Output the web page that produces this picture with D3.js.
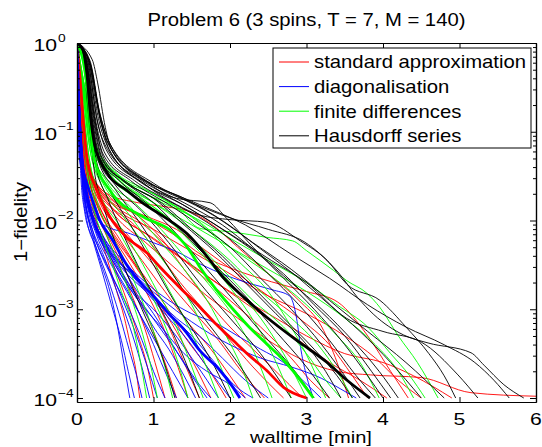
<!DOCTYPE html>
<html><head><meta charset="utf-8">
<script src="https://cdn.jsdelivr.net/npm/d3@7"></script>
<style>body{margin:0;background:#fff}svg{display:block}text{font-family:"Liberation Sans",Arial,Helvetica,sans-serif;fill:#000}</style>
</head><body>
<svg id="c" width="542" height="447"></svg>
<script>
// Each run: list of [walltime (min), log10(1 - fidelity)]
const titleText = "Problem 6 (3 spins, T = 7, M = 140)";
const xLabel = "walltime [min]";
const yLabel = "1\u2212fidelity";
const xTicks = [0,1,2,3,4,5,6];
const yTickExps = [0,-1,-2,-3,-4];
const seriesNames = ["standard approximation","diagonalisation","finite differences","Hausdorff series"];
const seriesColors = ["#ff0000","#0000ff","#00ff00","#000000"];

const redRuns = [
 [[0,0],[0.03,-0.6],[0.08,-1.3],[0.15,-1.75],[0.26,-2.05],[0.4,-2.45],[0.52,-2.8],[0.62,-3.1],[0.69,-3.37],[0.78,-3.74],[0.82,-4]],
 [[0,0],[0.04,-0.7],[0.1,-1.4],[0.2,-1.85],[0.35,-2.2],[0.5,-2.55],[0.65,-2.9],[0.8,-3.3],[0.92,-3.65],[1.0,-4]],
 [[0,0],[0.04,-0.6],[0.1,-1.3],[0.2,-1.8],[0.35,-2.1],[0.55,-2.5],[0.72,-2.85],[0.88,-3.2],[1.02,-3.6],[1.15,-4]],
 [[0,0],[0.05,-0.8],[0.12,-1.45],[0.25,-1.9],[0.45,-2.25],[0.65,-2.6],[0.85,-2.95],[1.0,-3.25],[1.15,-3.6],[1.3,-4]],
 [[0,0],[0.05,-0.7],[0.12,-1.35],[0.25,-1.8],[0.45,-2.15],[0.7,-2.5],[0.9,-2.8],[1.1,-3.15],[1.28,-3.55],[1.45,-4]],
 [[0,0],[0.06,-0.9],[0.15,-1.5],[0.3,-1.9],[0.5,-2.2],[0.75,-2.5],[1.0,-2.85],[1.2,-3.2],[1.4,-3.6],[1.6,-4]],
 [[0,0],[0.05,-0.8],[0.14,-1.45],[0.3,-1.85],[0.55,-2.2],[0.8,-2.55],[1.05,-2.9],[1.3,-3.25],[1.52,-3.6],[1.75,-4]],
 [[0,0],[0.06,-0.85],[0.15,-1.5],[0.35,-1.95],[0.6,-2.3],[0.9,-2.65],[1.15,-2.95],[1.4,-3.3],[1.7,-3.65],[1.95,-4]],
 [[0,0],[0.05,-0.75],[0.14,-1.4],[0.3,-1.8],[0.55,-2.1],[0.85,-2.45],[1.15,-2.8],[1.45,-3.15],[1.75,-3.45],[2.0,-3.75],[2.2,-4]],
 [[0,0],[0.06,-0.8],[0.16,-1.45],[0.35,-1.85],[0.65,-2.15],[0.95,-2.45],[1.25,-2.75],[1.55,-3.05],[1.85,-3.35],[2.15,-3.7],[2.45,-4]],
 [[0,0],[0.07,-0.9],[0.18,-1.5],[0.4,-1.8],[0.75,-2.05],[1.05,-2.35],[1.35,-2.7],[1.65,-3.0],[1.95,-3.3],[2.3,-3.65],[2.7,-4]],
 [[0,0],[0.06,-0.8],[0.16,-1.4],[0.4,-1.75],[0.8,-1.95],[1.1,-2.2],[1.4,-2.55],[1.7,-2.9],[2.0,-3.2],[2.3,-3.45],[2.6,-3.7],[2.95,-4]],
 [[0,0],[0.07,-0.85],[0.2,-1.5],[0.45,-1.8],[0.8,-2.0],[1.2,-2.3],[1.6,-2.6],[2.0,-2.9],[2.4,-3.2],[2.8,-3.55],[3.05,-3.8],[3.3,-4]],
 [[0,0],[0.06,-0.8],[0.17,-1.45],[0.4,-1.7],[0.8,-1.8],[1.2,-1.85],[1.44,-1.89],[1.74,-2.03],[2.1,-2.3],[2.5,-2.6],[2.9,-2.9],[3.2,-3.2],[3.4,-3.6],[3.55,-4]],
 [[0,0],[0.07,-0.9],[0.2,-1.5],[0.5,-1.8],[0.9,-1.95],[1.3,-2.1],[1.7,-2.35],[2.1,-2.6],[2.5,-2.85],[2.9,-3.1],[3.3,-3.4],[3.6,-3.75],[3.8,-4]],
 [[0,0],[0.06,-0.8],[0.18,-1.45],[0.45,-1.75],[0.85,-1.95],[1.25,-2.15],[1.65,-2.4],[2.05,-2.55],[2.54,-2.69],[3.0,-2.8],[3.41,-2.92],[3.8,-3.3],[4.1,-3.7],[4.33,-4]],
 [[0,0],[0.07,-0.85],[0.2,-1.5],[0.5,-1.85],[1.0,-2.1],[1.5,-2.35],[2.0,-2.6],[2.5,-2.85],[3.0,-3.05],[3.5,-3.3],[3.9,-3.55],[4.2,-3.8],[4.5,-4]],
 [[0,0],[0.07,-0.9],[0.2,-1.55],[0.5,-1.9],[1.0,-2.2],[1.5,-2.5],[2.0,-2.8],[2.5,-3.05],[3.0,-3.3],[3.5,-3.5],[4.0,-3.6],[4.4,-3.75],[4.9,-4]],
 [[0,0],[0.06,-0.8],[0.18,-1.45],[0.45,-1.85],[0.9,-2.15],[1.4,-2.45],[1.9,-2.75],[2.4,-3.05],[2.9,-3.35],[3.3,-3.6],[3.7,-3.8],[4.05,-4]],
 [[0,0],[0.07,-0.9],[0.2,-1.55],[0.5,-1.95],[0.9,-2.25],[1.3,-2.55],[1.7,-2.85],[2.1,-3.1],[2.5,-3.35],[2.9,-3.55],[3.4,-3.7],[3.84,-3.74],[4.5,-3.77],[5.15,-3.94],[6.0,-3.98]]
];
const blueRuns = [
 [[0,0],[0.02,-0.7],[0.06,-1.4],[0.12,-1.85],[0.17,-2.05],[0.3,-2.45],[0.43,-2.8],[0.52,-3.15],[0.6,-3.55],[0.69,-4]],
 [[0,0],[0.02,-0.8],[0.05,-1.5],[0.1,-1.9],[0.2,-2.2],[0.32,-2.55],[0.45,-2.95],[0.58,-3.35],[0.67,-3.7],[0.75,-4]],
 [[0,0],[0.03,-0.9],[0.07,-1.6],[0.13,-2.0],[0.25,-2.3],[0.4,-2.65],[0.55,-3.05],[0.68,-3.45],[0.78,-3.75],[0.85,-4]],
 [[0,0],[0.02,-0.6],[0.05,-1.3],[0.1,-1.8],[0.2,-2.1],[0.35,-2.4],[0.5,-2.75],[0.65,-3.1],[0.8,-3.5],[0.95,-4]],
 [[0,0],[0.03,-0.8],[0.07,-1.5],[0.14,-1.95],[0.28,-2.3],[0.45,-2.6],[0.6,-2.9],[0.78,-3.3],[0.92,-3.65],[1.05,-4]],
 [[0,0],[0.04,-1.0],[0.1,-1.7],[0.2,-2.1],[0.35,-2.45],[0.5,-2.7],[0.68,-3.0],[0.85,-3.35],[1.0,-3.7],[1.15,-4]],
 [[0,0],[0.03,-0.9],[0.08,-1.55],[0.18,-1.95],[0.3,-2.2],[0.5,-2.55],[0.7,-2.85],[0.9,-3.2],[1.1,-3.6],[1.3,-4]],
 [[0,0],[0.05,-1.1],[0.12,-1.75],[0.25,-2.15],[0.45,-2.5],[0.65,-2.8],[0.85,-3.1],[1.05,-3.4],[1.25,-3.7],[1.45,-4]],
 [[0,0],[0.04,-0.9],[0.1,-1.6],[0.22,-2.05],[0.4,-2.35],[0.6,-2.65],[0.8,-2.9],[1.0,-3.2],[1.2,-3.45],[1.4,-3.75],[1.55,-4]],
 [[0,0],[0.03,-0.8],[0.08,-1.45],[0.2,-1.95],[0.35,-2.2],[0.55,-2.45],[0.75,-2.75],[1.0,-3.05],[1.25,-3.4],[1.5,-3.75],[1.7,-4]],
 [[0,0],[0.03,-0.8],[0.09,-1.5],[0.22,-2.0],[0.45,-2.4],[0.7,-2.75],[0.95,-3.05],[1.2,-3.35],[1.4,-3.6],[1.6,-3.85],[1.75,-4]],
 [[0,0],[0.05,-1.0],[0.13,-1.7],[0.3,-2.15],[0.5,-2.45],[0.75,-2.8],[1.0,-3.0],[1.25,-3.25],[1.5,-3.55],[1.7,-3.8],[1.85,-4]],
 [[0,0],[0.04,-0.9],[0.1,-1.6],[0.25,-2.05],[0.45,-2.35],[0.7,-2.6],[0.95,-2.85],[1.2,-3.1],[1.45,-3.35],[1.7,-3.65],[2.0,-4]],
 [[0,0],[0.04,-0.85],[0.1,-1.6],[0.25,-2.1],[0.5,-2.5],[0.8,-2.9],[1.1,-3.2],[1.4,-3.5],[1.7,-3.7],[2.0,-3.85],[2.2,-4]],
 [[0,0],[0.05,-1.05],[0.15,-1.8],[0.35,-2.25],[0.6,-2.55],[0.9,-2.8],[1.2,-3.05],[1.5,-3.3],[1.8,-3.6],[2.05,-3.85],[2.3,-4]],
 [[0,0],[0.06,-1.1],[0.18,-1.85],[0.4,-2.3],[0.7,-2.6],[1.0,-2.85],[1.3,-3.1],[1.6,-3.3],[1.9,-3.55],[2.2,-3.8],[2.5,-4]],
 [[0,0],[0.05,-1.0],[0.15,-1.75],[0.35,-2.05],[0.7,-2.15],[1.0,-2.25],[1.3,-2.35],[1.61,-2.49],[1.95,-2.62],[2.26,-2.71],[2.55,-2.78],[2.78,-2.85],[2.87,-3.1],[2.93,-3.47],[3.0,-3.75],[3.09,-4]],
 [[0,0],[0.04,-0.9],[0.12,-1.65],[0.3,-2.1],[0.6,-2.45],[0.9,-2.7],[1.2,-2.9],[1.5,-3.05],[1.8,-3.15],[2.1,-3.3],[2.4,-3.45],[2.7,-3.6],[2.95,-3.8],[3.19,-4]],
 [[0,0],[0.05,-1.0],[0.15,-1.8],[0.4,-2.3],[0.8,-2.65],[1.2,-2.95],[1.6,-3.2],[2.0,-3.4],[2.4,-3.55],[2.8,-3.65],[3.2,-3.78],[3.45,-3.9],[3.65,-4]]
];
const greenRuns = [
 [[0,0],[0.04,-0.5],[0.1,-1.2],[0.2,-1.8],[0.3,-2.1],[0.43,-2.42],[0.58,-2.8],[0.73,-3.18],[0.86,-3.74],[0.91,-4]],
 [[0,0],[0.05,-0.6],[0.12,-1.25],[0.22,-1.75],[0.38,-2.15],[0.55,-2.5],[0.72,-2.9],[0.88,-3.35],[0.98,-3.7],[1.05,-4]],
 [[0,0],[0.06,-0.6],[0.14,-1.3],[0.25,-1.75],[0.45,-2.15],[0.65,-2.5],[0.85,-2.9],[1.02,-3.3],[1.15,-3.65],[1.25,-4]],
 [[0,0],[0.06,-0.55],[0.15,-1.25],[0.28,-1.7],[0.5,-2.05],[0.75,-2.45],[0.98,-2.85],[1.18,-3.25],[1.32,-3.6],[1.45,-4]],
 [[0,0],[0.07,-0.6],[0.16,-1.3],[0.3,-1.7],[0.55,-2.05],[0.8,-2.4],[1.05,-2.8],[1.3,-3.2],[1.48,-3.6],[1.65,-4]],
 [[0,0],[0.07,-0.5],[0.17,-1.2],[0.32,-1.6],[0.6,-1.95],[0.9,-2.3],[1.15,-2.7],[1.4,-3.1],[1.62,-3.5],[1.85,-4]],
 [[0,0],[0.08,-0.6],[0.18,-1.25],[0.35,-1.6],[0.65,-1.9],[0.95,-2.25],[1.25,-2.6],[1.5,-2.95],[1.75,-3.4],[2.05,-4]],
 [[0,0],[0.08,-0.55],[0.19,-1.2],[0.38,-1.55],[0.7,-1.85],[1.05,-2.2],[1.4,-2.55],[1.7,-2.9],[1.95,-3.3],[2.15,-3.65],[2.3,-4]],
 [[0,0],[0.09,-0.6],[0.2,-1.25],[0.4,-1.55],[0.75,-1.8],[1.1,-2.1],[1.45,-2.45],[1.8,-2.8],[2.1,-3.15],[2.35,-3.55],[2.55,-4]],
 [[0,0],[0.08,-0.5],[0.2,-1.15],[0.42,-1.5],[0.8,-1.75],[1.2,-2.0],[1.6,-2.35],[1.95,-2.7],[2.25,-3.05],[2.55,-3.5],[2.8,-4]],
 [[0,0],[0.09,-0.55],[0.21,-1.2],[0.45,-1.5],[0.85,-1.75],[1.3,-2.05],[1.7,-2.4],[2.05,-2.75],[2.4,-3.1],[2.7,-3.5],[3.0,-4]],
 [[0,0],[0.1,-0.6],[0.22,-1.2],[0.45,-1.45],[0.9,-1.7],[1.3,-1.85],[1.7,-2.1],[2.1,-2.45],[2.5,-2.8],[2.8,-3.2],[3.05,-3.6],[3.25,-4]],
 [[0,0],[0.09,-0.5],[0.22,-1.15],[0.5,-1.55],[1.0,-1.85],[1.5,-2.2],[1.9,-2.55],[2.3,-2.9],[2.7,-3.2],[3.0,-3.5],[3.25,-3.8],[3.45,-4]],
 [[0,0],[0.1,-0.55],[0.23,-1.2],[0.5,-1.5],[1.0,-1.8],[1.5,-2.1],[2.0,-2.45],[2.4,-2.8],[2.8,-3.1],[3.15,-3.4],[3.4,-3.7],[3.6,-4]],
 [[0,0],[0.1,-0.5],[0.24,-1.15],[0.55,-1.5],[1.0,-1.7],[1.5,-1.95],[2.0,-2.3],[2.5,-2.6],[3.0,-2.95],[3.4,-3.3],[3.7,-3.6],[3.95,-4]],
 [[0,0],[0.1,-0.55],[0.24,-1.2],[0.55,-1.55],[1.0,-1.8],[1.5,-2.05],[2.0,-2.3],[2.5,-2.55],[3.0,-2.8],[3.5,-3.1],[3.9,-3.4],[4.2,-3.7],[4.4,-4]],
 [[0,0],[0.1,-0.5],[0.24,-1.2],[0.55,-1.5],[1.0,-1.75],[1.5,-1.95],[2.0,-2.2],[2.5,-2.45],[3.0,-2.7],[3.4,-2.95],[3.8,-3.2],[4.1,-3.5],[4.35,-3.75],[4.55,-4]],
 [[0,0],[0.1,-0.5],[0.25,-1.15],[0.5,-1.45],[0.9,-1.65],[1.3,-1.85],[1.61,-2.09],[2.04,-2.13],[2.48,-2.19],[2.82,-2.23],[3.0,-2.34],[3.35,-2.56],[3.53,-2.68],[3.79,-2.82],[3.96,-2.98],[4.2,-3.3],[4.45,-3.6],[4.72,-4]]
];
const blackRuns = [
 [[0,0],[0.08,-0.2],[0.15,-0.8],[0.22,-1.4],[0.35,-1.85],[0.5,-2.25],[0.7,-2.7],[0.9,-3.1],[1.1,-3.5],[1.28,-4]],
 [[0,0],[0.08,-0.15],[0.16,-0.8],[0.24,-1.35],[0.4,-1.75],[0.6,-2.15],[0.85,-2.6],[1.1,-3.0],[1.35,-3.45],[1.6,-4]],
 [[0,0],[0.09,-0.2],[0.17,-0.85],[0.26,-1.35],[0.45,-1.7],[0.7,-2.05],[1.0,-2.5],[1.3,-2.95],[1.6,-3.35],[1.8,-3.65],[2.0,-4]],
 [[0,0],[0.1,-0.2],[0.18,-0.8],[0.27,-1.3],[0.5,-1.65],[0.8,-2.0],[1.1,-2.4],[1.4,-2.8],[1.75,-3.2],[2.1,-3.6],[2.4,-4]],
 [[0,0],[0.1,-0.15],[0.19,-0.8],[0.28,-1.3],[0.5,-1.6],[0.85,-1.9],[1.2,-2.25],[1.6,-2.7],[2.0,-3.1],[2.4,-3.5],[2.8,-4]],
 [[0,0],[0.1,-0.2],[0.2,-0.85],[0.3,-1.3],[0.55,-1.55],[0.9,-1.8],[1.3,-2.15],[1.7,-2.55],[2.1,-2.95],[2.5,-3.35],[2.85,-3.7],[3.1,-4]],
 [[0,0],[0.12,-0.25],[0.22,-0.9],[0.32,-1.3],[0.6,-1.55],[1.0,-1.8],[1.4,-2.15],[1.8,-2.5],[2.2,-2.85],[2.6,-3.25],[3.0,-3.65],[3.3,-4]],
 [[0,0],[0.12,-0.2],[0.22,-0.85],[0.33,-1.3],[0.6,-1.55],[1.0,-1.75],[1.4,-2.05],[1.8,-2.35],[2.2,-2.7],[2.6,-3.05],[3.0,-3.4],[3.25,-3.7],[3.45,-4]],
 [[0,0],[0.13,-0.25],[0.24,-0.9],[0.35,-1.3],[0.7,-1.6],[1.1,-1.8],[1.5,-2.1],[1.9,-2.4],[2.3,-2.75],[2.7,-3.1],[3.1,-3.45],[3.4,-3.75],[3.6,-4]],
 [[0,0],[0.12,-0.2],[0.23,-0.85],[0.34,-1.25],[0.7,-1.55],[1.2,-1.82],[1.6,-2.05],[2.0,-2.3],[2.4,-2.65],[2.8,-3.0],[3.2,-3.4],[3.5,-3.75],[3.7,-4]],
 [[0,0],[0.14,-0.25],[0.25,-0.9],[0.37,-1.25],[0.75,-1.55],[1.2,-1.78],[1.7,-2.02],[2.1,-2.28],[2.5,-2.6],[2.9,-2.95],[3.3,-3.35],[3.65,-3.75],[3.9,-4]],
 [[0,0],[0.14,-0.2],[0.26,-0.85],[0.38,-1.2],[0.8,-1.55],[1.3,-1.75],[1.74,-1.8],[1.96,-1.98],[2.3,-2.3],[2.7,-2.65],[3.1,-3.0],[3.5,-3.4],[3.8,-3.75],[4.0,-4]],
 [[0,0],[0.15,-0.25],[0.27,-0.9],[0.4,-1.2],[0.85,-1.55],[1.4,-1.8],[1.9,-2.05],[2.3,-2.32],[2.7,-2.6],[3.1,-2.95],[3.5,-3.3],[3.85,-3.7],[4.1,-4]],
 [[0,0],[0.15,-0.2],[0.28,-0.85],[0.42,-1.2],[0.9,-1.6],[1.4,-1.83],[1.9,-2.1],[2.4,-2.4],[2.8,-2.7],[3.2,-3.0],[3.6,-3.35],[3.95,-3.7],[4.2,-4]],
 [[0,0],[0.16,-0.2],[0.3,-0.8],[0.44,-1.15],[0.9,-1.55],[1.4,-1.75],[1.9,-2.0],[2.4,-2.32],[2.9,-2.65],[3.3,-2.95],[3.7,-3.25],[4.1,-3.6],[4.5,-4]],
 [[0,0],[0.2,-0.19],[0.27,-0.45],[0.37,-0.95],[0.45,-1.2],[0.8,-1.5],[1.3,-1.72],[1.8,-1.95],[2.3,-2.25],[2.8,-2.55],[3.3,-2.9],[3.8,-3.25],[4.3,-3.6],[4.8,-4]],
 [[0,0],[0.15,-0.2],[0.28,-0.75],[0.42,-1.2],[0.9,-1.6],[1.3,-1.82],[1.61,-1.94],[2.0,-1.99],[2.48,-2.02],[2.92,-2.23],[3.27,-2.45],[3.53,-2.72],[3.96,-2.9],[4.3,-3.2],[4.6,-3.5],[4.8,-3.75],[4.95,-4]],
 [[0,0],[0.16,-0.2],[0.3,-0.85],[0.45,-1.2],[1.0,-1.62],[1.5,-1.88],[2.0,-2.15],[2.54,-2.45],[3.0,-2.7],[3.52,-3.1],[4.0,-3.25],[4.5,-3.37],[4.98,-3.74],[5.24,-4]],
 [[0,0],[0.18,-0.25],[0.3,-0.85],[0.45,-1.2],[1.0,-1.6],[1.5,-1.8],[2.0,-1.97],[2.5,-2.1],[2.97,-2.24],[3.41,-2.58],[3.67,-2.87],[3.88,-3.06],[4.27,-3.29],[4.59,-3.38],[5.15,-3.49],[5.32,-3.63],[5.58,-3.85],[5.84,-4]],
 [[0,0],[0.17,-0.2],[0.3,-0.8],[0.44,-1.15],[1.0,-1.58],[1.6,-1.82],[2.2,-2.05],[2.8,-2.38],[3.3,-2.65],[3.8,-2.95],[4.3,-3.2],[4.8,-3.4],[5.2,-3.6],[5.45,-3.8],[5.65,-4]]
];
// Thick lines (typical run of each method)
const redTypical = [[0,0],[0.04,-0.4],[0.08,-0.85],[0.13,-1.29],[0.26,-1.66],[0.43,-1.96],[0.65,-2.19],[0.92,-2.37],[1.09,-2.53],[1.35,-2.76],[1.61,-2.98],[1.82,-3.17],[2.04,-3.35],[2.25,-3.52],[2.48,-3.69],[2.7,-3.88],[3.0,-4]];
const blueTypical = [[0,0],[0.02,-0.6],[0.04,-1.29],[0.1,-1.5],[0.17,-1.69],[0.3,-2.0],[0.45,-2.2],[0.65,-2.5],[0.85,-2.72],[1.02,-2.87],[1.2,-3.05],[1.41,-3.24],[1.61,-3.47],[1.87,-3.69],[2.04,-3.88],[2.13,-4]];
const greenTypical = [[0,0],[0.08,-0.2],[0.14,-0.55],[0.18,-0.95],[0.22,-1.29],[0.43,-1.66],[0.87,-1.96],[1.22,-2.11],[1.44,-2.3],[1.61,-2.53],[1.82,-2.78],[2.04,-3.0],[2.25,-3.2],[2.48,-3.39],[2.65,-3.53],[2.82,-3.69],[3.09,-4]];
const blackTypical = [[0,0],[0.08,-0.08],[0.13,-0.35],[0.18,-0.85],[0.23,-1.15],[0.3,-1.32],[0.43,-1.51],[0.65,-1.66],[0.87,-1.81],[1.14,-1.96],[1.44,-2.15],[1.74,-2.45],[1.87,-2.6],[2.2,-2.88],[2.48,-3.09],[2.92,-3.38],[3.27,-3.6],[3.53,-3.8],[3.83,-4]];

const svg = d3.select("#c");
const L=77, R=536, T=43, B=402;
const x = d3.scaleLinear().domain([0,6]).range([L,R]);
const y = d3.scaleLog().domain([Math.pow(10,-4.045),1]).range([B,T]);

svg.append("defs").append("clipPath").attr("id","clip").append("rect")
  .attr("x",L).attr("y",T).attr("width",R-L).attr("height",B-T);

const line = d3.line().curve(d3.curveMonotoneX).x(d=>x(d[0])).y(d=>y(Math.pow(10,d[1])));
const plot = svg.append("g").attr("clip-path","url(#clip)");
const groups = [redRuns, blueRuns, greenRuns, blackRuns];
groups.forEach((runs,i)=>{
  plot.append("g").selectAll("path").data(runs).join("path")
    .attr("d",line).attr("fill","none").attr("stroke",seriesColors[i])
    .attr("stroke-width",0.9).attr("stroke-linejoin","round");
});
[redTypical, blueTypical, greenTypical, blackTypical].forEach((d,i)=>{
  plot.append("path").attr("d",line(d)).attr("fill","none")
    .attr("stroke",seriesColors[i]).attr("stroke-width",2.8).attr("stroke-linejoin","round");
});

// box + ticks
const majorY = yTickExps.map(e=>Math.pow(10,e));
const minorY = [];
for (let k=-5;k<0;k++) for (let m=2;m<=9;m++){ const v=m*Math.pow(10,k); if (v>=y.domain()[0] && v<=1) minorY.push(v); }
function styleAxis(g){ g.selectAll("text").remove(); g.select(".domain").attr("stroke","#000").attr("stroke-width",1.2); g.selectAll(".tick line").attr("stroke","#000").attr("stroke-width",1); }
svg.append("g").attr("transform",`translate(0,${B})`).call(d3.axisBottom(x).tickValues(xTicks).tickSize(-5).tickSizeOuter(0)).call(styleAxis);
svg.append("g").attr("transform",`translate(0,${T})`).call(d3.axisTop(x).tickValues(xTicks).tickSize(-5).tickSizeOuter(0)).call(styleAxis);
svg.append("g").attr("transform",`translate(${L},0)`).call(d3.axisLeft(y).tickValues(majorY).tickSize(-6).tickSizeOuter(0)).call(styleAxis);
svg.append("g").attr("transform",`translate(${R},0)`).call(d3.axisRight(y).tickValues(majorY).tickSize(-6).tickSizeOuter(0)).call(styleAxis);
svg.append("g").attr("transform",`translate(${L},0)`).call(d3.axisLeft(y).tickValues(minorY).tickSize(-3).tickSizeOuter(0)).call(styleAxis);
svg.append("g").attr("transform",`translate(${R},0)`).call(d3.axisRight(y).tickValues(minorY).tickSize(-3).tickSizeOuter(0)).call(styleAxis);

// tick labels
const xl = svg.append("g");
xTicks.forEach(v=>{
  xl.append("text").attr("transform",`translate(${x(v)},425) scale(1.3,1)`)
    .attr("text-anchor","middle").attr("font-size",16.3).text(v);
});
yTickExps.forEach(e=>{
  const ty = y(Math.pow(10,e));
  xl.append("text").attr("transform",`translate(57,${ty+8}) scale(1.3,1)`)
    .attr("text-anchor","end").attr("font-size",16.3).text("10");
  xl.append("text").attr("transform",`translate(58,${ty-1.5}) scale(1.2,1)`)
    .attr("text-anchor","start").attr("font-size",11.5).text(e===0?"0":"\u2212"+(-e));
});

// title & labels
svg.append("text").attr("transform","translate(306.5,26) scale(1.067,1)")
  .attr("text-anchor","middle").attr("font-size",19).text(titleText);
svg.append("text").attr("transform","translate(311,443) scale(1.22,1)")
  .attr("text-anchor","middle").attr("font-size",16.5).text(xLabel);
svg.append("text").attr("transform","translate(27,222) rotate(-90) scale(1.15,1)")
  .attr("text-anchor","middle").attr("font-size",17.5).text(yLabel);

// legend
const lg = svg.append("g");
lg.append("rect").attr("x",273).attr("y",48).attr("width",258).attr("height",100)
  .attr("fill","#fff").attr("stroke","#000").attr("stroke-width",1);
seriesNames.forEach((n,i)=>{
  const ly = 62 + i*24.6;
  lg.append("line").attr("x1",279).attr("x2",309).attr("y1",ly).attr("y2",ly)
    .attr("stroke",seriesColors[i]).attr("stroke-width",1);
  lg.append("text").attr("transform",`translate(314,${ly+6.3}) scale(1.128,1)`)
    .attr("font-size",18).text(n);
});
</script>
</body></html>
